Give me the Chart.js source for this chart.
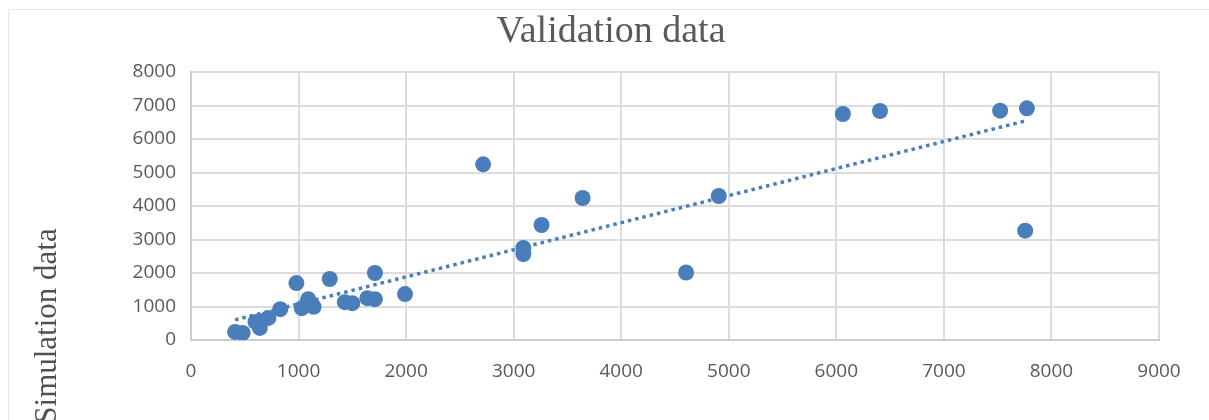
<!DOCTYPE html>
<html>
<head>
<meta charset="utf-8">
<script src="https://cdn.jsdelivr.net/npm/chart.js@4"></script>
<style>
  html, body { margin: 0; padding: 0; background: #fff; overflow: hidden; }
  #wrap { width: 1209px; height: 420px; position: relative; }
</style>
</head>
<body>
<div id="wrap"><canvas id="chart"></canvas></div>
<script>
// --- data ---
const validation = [410, 480, 600, 640, 650, 720, 830, 980, 1030, 1090, 1140, 1290, 1430, 1500, 1640, 1710, 1710, 1990,
  2716, 3090, 3090, 3259, 3641, 4603, 4907, 6061, 6406, 7523, 7772, 7756];
const simulation = [240, 210, 540, 360, 560, 660, 920, 1700, 950, 1220, 990, 1820, 1130, 1100, 1250, 1220, 2000, 1370,
  5245, 2746, 2567, 3433, 4239, 2015, 4299, 6746, 6836, 6845, 6916, 3263];

// linear trendline end points
const trendX = [410, 7770];
const trendY = [600, 6550];

const chartTitle = 'Validation data';
const yTitle = 'Simulation data';

const blue = '#4A7EBB';
const grey = '#595959';

const points = validation.map((v, i) => ({ x: v, y: simulation[i] }));
const trend = trendX.map((v, i) => ({ x: v, y: trendY[i] }));

// outer frame, title centred on the whole picture, rotated y title (sits low like the cropped original)
const frame = {
  id: 'frame',
  afterDraw(chart) {
    const c = chart.ctx;
    c.save();
    c.strokeStyle = '#e6e6e6';
    c.lineWidth = 1;
    c.beginPath();
    c.moveTo(8.5, 420);
    c.lineTo(8.5, 9.5);
    c.lineTo(1209, 9.5);
    c.stroke();

    c.fillStyle = grey;
    c.font = '38px "Liberation Serif", serif';
    c.textAlign = 'center';
    c.textBaseline = 'middle';
    c.fillText(chartTitle, 611, 32);

    c.fillStyle = '#505050';
    c.font = '31px "Liberation Serif", serif';
    c.textBaseline = 'alphabetic';
    c.translate(56, 326);
    c.rotate(-Math.PI / 2);
    c.fillText(yTitle, 0, 0);
    c.restore();
  }
};

const plain = (v) => String(v);

new Chart(document.getElementById('chart'), {
  type: 'scatter',
  data: {
    datasets: [
      {
        label: yTitle,
        data: points,
        backgroundColor: blue,
        borderWidth: 0,
        pointRadius: 8,
        pointHoverRadius: 8
      },
      {
        label: 'Linear trend',
        data: trend,
        showLine: true,
        borderColor: blue,
        borderWidth: 3.5,
        borderDash: [3.5, 4],
        pointRadius: 0,
        fill: false
      }
    ]
  },
  options: {
    responsive: true,
    maintainAspectRatio: false,
    animation: false,
    layout: { padding: { left: 0, right: 50, top: 72, bottom: 0 } },
    plugins: {
      legend: { display: false },
      tooltip: { enabled: false },
      title: { display: false }
    },
    scales: {
      x: {
        type: 'linear',
        min: 0, max: 9000,
        ticks: { stepSize: 1000, callback: plain, color: grey, padding: 20, font: { family: '"Open Sans", sans-serif', size: 19 } },
        grid: { color: '#dcdcdc', lineWidth: 2, drawTicks: false },
        border: { color: '#cccccc', width: 2 },
        afterFit(scale) { scale.height = 80; }
      },
      y: {
        min: 0, max: 8000,
        ticks: { stepSize: 1000, callback: plain, color: grey, padding: 15, font: { family: '"Open Sans", sans-serif', size: 19 } },
        grid: { color: '#dcdcdc', lineWidth: 2, drawTicks: false },
        border: { color: '#cccccc', width: 2 },
        afterFit(scale) { scale.width = 191; }
      }
    }
  },
  plugins: [frame]
});
</script>
</body>
</html>
